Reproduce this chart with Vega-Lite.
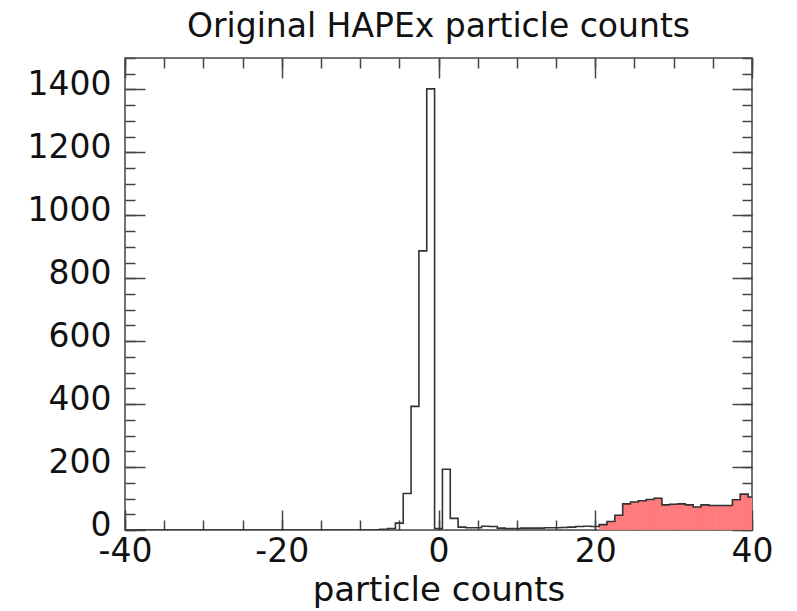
{
  "$schema": "https://vega.github.io/schema/vega-lite/v6.json",
  "width": 627,
  "height": 472,
  "autosize": "none",
  "padding": {"left": 125, "top": 58, "right": 45, "bottom": 81},
  "background": "white",
  "config": {"view": {"stroke": "#444", "strokeWidth": 1.5}, "font": "DejaVu Sans"},
  "title": {"text": "Original HAPEx particle counts", "fontSize": 33, "font": "DejaVu Sans", "fontWeight": "normal", "color": "#111", "offset": 13, "anchor": "middle"},
  "data": {"values": [
    {"bin": -40, "lo": -40.5, "hi": -39.5, "count": 0},
    {"bin": -39, "lo": -39.5, "hi": -38.5, "count": 0},
    {"bin": -38, "lo": -38.5, "hi": -37.5, "count": 0},
    {"bin": -37, "lo": -37.5, "hi": -36.5, "count": 0},
    {"bin": -36, "lo": -36.5, "hi": -35.5, "count": 0},
    {"bin": -35, "lo": -35.5, "hi": -34.5, "count": 0},
    {"bin": -34, "lo": -34.5, "hi": -33.5, "count": 0},
    {"bin": -33, "lo": -33.5, "hi": -32.5, "count": 0},
    {"bin": -32, "lo": -32.5, "hi": -31.5, "count": 0},
    {"bin": -31, "lo": -31.5, "hi": -30.5, "count": 0},
    {"bin": -30, "lo": -30.5, "hi": -29.5, "count": 0},
    {"bin": -29, "lo": -29.5, "hi": -28.5, "count": 0},
    {"bin": -28, "lo": -28.5, "hi": -27.5, "count": 0},
    {"bin": -27, "lo": -27.5, "hi": -26.5, "count": 0},
    {"bin": -26, "lo": -26.5, "hi": -25.5, "count": 0},
    {"bin": -25, "lo": -25.5, "hi": -24.5, "count": 0},
    {"bin": -24, "lo": -24.5, "hi": -23.5, "count": 0},
    {"bin": -23, "lo": -23.5, "hi": -22.5, "count": 0},
    {"bin": -22, "lo": -22.5, "hi": -21.5, "count": 0},
    {"bin": -21, "lo": -21.5, "hi": -20.5, "count": 0},
    {"bin": -20, "lo": -20.5, "hi": -19.5, "count": 0},
    {"bin": -19, "lo": -19.5, "hi": -18.5, "count": 0},
    {"bin": -18, "lo": -18.5, "hi": -17.5, "count": 0},
    {"bin": -17, "lo": -17.5, "hi": -16.5, "count": 0},
    {"bin": -16, "lo": -16.5, "hi": -15.5, "count": 0},
    {"bin": -15, "lo": -15.5, "hi": -14.5, "count": 0},
    {"bin": -14, "lo": -14.5, "hi": -13.5, "count": 0},
    {"bin": -13, "lo": -13.5, "hi": -12.5, "count": 0},
    {"bin": -12, "lo": -12.5, "hi": -11.5, "count": 0},
    {"bin": -11, "lo": -11.5, "hi": -10.5, "count": 0},
    {"bin": -10, "lo": -10.5, "hi": -9.5, "count": 0},
    {"bin": -9, "lo": -9.5, "hi": -8.5, "count": 0},
    {"bin": -8, "lo": -8.5, "hi": -7.5, "count": 1},
    {"bin": -7, "lo": -7.5, "hi": -6.5, "count": 2},
    {"bin": -6, "lo": -6.5, "hi": -5.5, "count": 5},
    {"bin": -5, "lo": -5.5, "hi": -4.5, "count": 22},
    {"bin": -4, "lo": -4.5, "hi": -3.5, "count": 116},
    {"bin": -3, "lo": -3.5, "hi": -2.5, "count": 393},
    {"bin": -2, "lo": -2.5, "hi": -1.5, "count": 887},
    {"bin": -1, "lo": -1.5, "hi": -0.5, "count": 1402},
    {"bin": 0, "lo": -0.5, "hi": 0.5, "count": 5},
    {"bin": 1, "lo": 0.5, "hi": 1.5, "count": 193},
    {"bin": 2, "lo": 1.5, "hi": 2.5, "count": 37},
    {"bin": 3, "lo": 2.5, "hi": 3.5, "count": 9},
    {"bin": 4, "lo": 3.5, "hi": 4.5, "count": 7},
    {"bin": 5, "lo": 4.5, "hi": 5.5, "count": 7},
    {"bin": 6, "lo": 5.5, "hi": 6.5, "count": 12},
    {"bin": 7, "lo": 6.5, "hi": 7.5, "count": 11},
    {"bin": 8, "lo": 7.5, "hi": 8.5, "count": 6},
    {"bin": 9, "lo": 8.5, "hi": 9.5, "count": 5},
    {"bin": 10, "lo": 9.5, "hi": 10.5, "count": 5},
    {"bin": 11, "lo": 10.5, "hi": 11.5, "count": 6},
    {"bin": 12, "lo": 11.5, "hi": 12.5, "count": 6},
    {"bin": 13, "lo": 12.5, "hi": 13.5, "count": 6},
    {"bin": 14, "lo": 13.5, "hi": 14.5, "count": 7},
    {"bin": 15, "lo": 14.5, "hi": 15.5, "count": 7},
    {"bin": 16, "lo": 15.5, "hi": 16.5, "count": 8},
    {"bin": 17, "lo": 16.5, "hi": 17.5, "count": 9},
    {"bin": 18, "lo": 17.5, "hi": 18.5, "count": 11},
    {"bin": 19, "lo": 18.5, "hi": 19.5, "count": 12},
    {"bin": 20, "lo": 19.5, "hi": 20.5, "count": 11},
    {"bin": 21, "lo": 20.5, "hi": 21.5, "count": 17},
    {"bin": 22, "lo": 21.5, "hi": 22.5, "count": 27},
    {"bin": 23, "lo": 22.5, "hi": 23.5, "count": 47},
    {"bin": 24, "lo": 23.5, "hi": 24.5, "count": 83},
    {"bin": 25, "lo": 24.5, "hi": 25.5, "count": 89},
    {"bin": 26, "lo": 25.5, "hi": 26.5, "count": 93},
    {"bin": 27, "lo": 26.5, "hi": 27.5, "count": 97},
    {"bin": 28, "lo": 27.5, "hi": 28.5, "count": 101},
    {"bin": 29, "lo": 28.5, "hi": 29.5, "count": 80},
    {"bin": 30, "lo": 29.5, "hi": 30.5, "count": 82},
    {"bin": 31, "lo": 30.5, "hi": 31.5, "count": 83},
    {"bin": 32, "lo": 31.5, "hi": 32.5, "count": 80},
    {"bin": 33, "lo": 32.5, "hi": 33.5, "count": 73},
    {"bin": 34, "lo": 33.5, "hi": 34.5, "count": 80},
    {"bin": 35, "lo": 34.5, "hi": 35.5, "count": 78},
    {"bin": 36, "lo": 35.5, "hi": 36.5, "count": 78},
    {"bin": 37, "lo": 36.5, "hi": 37.5, "count": 78},
    {"bin": 38, "lo": 37.5, "hi": 38.5, "count": 96},
    {"bin": 39, "lo": 38.5, "hi": 39.5, "count": 114},
    {"bin": 40, "lo": 39.5, "hi": 40.5, "count": 105}
  ]},
  "layer": [
    {
      "transform": [{"filter": "datum.bin >= 21"}],
      "mark": {"type": "bar", "fill": "#ff7b7b", "stroke": "#ff7b7b", "strokeWidth": 0.6, "clip": true},
      "encoding": {
        "x": {"field": "lo", "type": "quantitative", "scale": {"domain": [-40, 40], "nice": false, "zero": false},
          "axis": {"orient": "bottom", "values": [-40, -20, 0, 20, 40], "ticks": false, "tickSize": 0, "domain": false, "grid": false,
            "labelFontSize": 33, "labelFont": "DejaVu Sans", "labelColor": "#111", "labelPadding": 5, "labelFlush": false, "labelOverlap": false, "labelBound": false,
            "labelExpr": "datum.value < 0 ? '-' + abs(datum.value) : '' + datum.value",
            "title": "particle counts", "titleFontSize": 34, "titleFont": "DejaVu Sans", "titleFontWeight": "normal", "titleColor": "#111", "titlePadding": 5}},
        "x2": {"field": "hi"},
        "y": {"field": "count", "type": "quantitative", "scale": {"domain": [0, 1500], "nice": false},
          "axis": {"orient": "left", "values": [0, 200, 400, 600, 800, 1000, 1200, 1400], "format": "d", "ticks": false, "tickSize": 0, "domain": false, "grid": false,
            "labelFontSize": 33, "labelFont": "DejaVu Sans", "labelColor": "#111", "labelPadding": 14, "labelOffset": -5, "labelFlush": false, "labelOverlap": false, "labelBound": false, "title": null}},
        "y2": {"datum": 0}
      }
    },
    {
      "mark": {"type": "line", "interpolate": "step", "color": "#333", "strokeWidth": 1.6, "clip": true},
      "encoding": {
        "x": {"field": "bin", "type": "quantitative", "scale": {"domain": [-40, 40], "nice": false, "zero": false},
          "axis": {"orient": "bottom", "values": [-40, -35, -30, -25, -20, -15, -10, -5, 0, 5, 10, 15, 20, 25, 30, 35, 40], "labels": false, "domain": false, "grid": false, "ticks": true, "tickSize": -10, "tickColor": "#444", "tickWidth": 1.5, "title": null}},
        "y": {"field": "count", "type": "quantitative", "scale": {"domain": [0, 1500], "nice": false},
          "axis": {"orient": "left", "values": [0, 50, 100, 150, 200, 250, 300, 350, 400, 450, 500, 550, 600, 650, 700, 750, 800, 850, 900, 950, 1000, 1050, 1100, 1150, 1200, 1250, 1300, 1350, 1400, 1450, 1500], "labels": false, "domain": false, "grid": false, "ticks": true, "tickSize": -10, "tickColor": "#444", "tickWidth": 1.5, "title": null}}
      }
    },
    {
      "mark": {"type": "point", "opacity": 0},
      "encoding": {
        "x": {"field": "bin", "type": "quantitative", "scale": {"domain": [-40, 40], "nice": false, "zero": false},
          "axis": {"orient": "bottom", "values": [-40, -20, 0, 20, 40], "labels": false, "domain": false, "grid": false, "ticks": true, "tickSize": -20, "tickColor": "#444", "tickWidth": 1.5, "title": null}},
        "y": {"field": "count", "type": "quantitative", "scale": {"domain": [0, 1500], "nice": false},
          "axis": {"orient": "left", "values": [0, 200, 400, 600, 800, 1000, 1200, 1400], "labels": false, "domain": false, "grid": false, "ticks": true, "tickSize": -20, "tickColor": "#444", "tickWidth": 1.5, "title": null}}
      }
    },
    {
      "mark": {"type": "point", "opacity": 0},
      "encoding": {
        "x": {"field": "bin", "type": "quantitative", "scale": {"domain": [-40, 40], "nice": false, "zero": false},
          "axis": {"orient": "top", "values": [-40, -20, 0, 20, 40], "labels": false, "domain": false, "grid": false, "ticks": true, "tickSize": -20, "tickColor": "#444", "tickWidth": 1.5, "title": null}},
        "y": {"field": "count", "type": "quantitative", "scale": {"domain": [0, 1500], "nice": false},
          "axis": {"orient": "right", "values": [0, 200, 400, 600, 800, 1000, 1200, 1400], "labels": false, "domain": false, "grid": false, "ticks": true, "tickSize": -20, "tickColor": "#444", "tickWidth": 1.5, "title": null}}
      }
    },
    {
      "mark": {"type": "point", "opacity": 0},
      "encoding": {
        "x": {"field": "bin", "type": "quantitative", "scale": {"domain": [-40, 40], "nice": false, "zero": false},
          "axis": {"orient": "top", "values": [-40, -35, -30, -25, -20, -15, -10, -5, 0, 5, 10, 15, 20, 25, 30, 35, 40], "labels": false, "domain": false, "grid": false, "ticks": true, "tickSize": -10, "tickColor": "#444", "tickWidth": 1.5, "title": null}},
        "y": {"field": "count", "type": "quantitative", "scale": {"domain": [0, 1500], "nice": false},
          "axis": {"orient": "right", "values": [0, 50, 100, 150, 200, 250, 300, 350, 400, 450, 500, 550, 600, 650, 700, 750, 800, 850, 900, 950, 1000, 1050, 1100, 1150, 1200, 1250, 1300, 1350, 1400, 1450, 1500], "labels": false, "domain": false, "grid": false, "ticks": true, "tickSize": -10, "tickColor": "#444", "tickWidth": 1.5, "title": null}}
      }
    }
  ],
  "resolve": {"axis": {"x": "independent", "y": "independent"}}
}
